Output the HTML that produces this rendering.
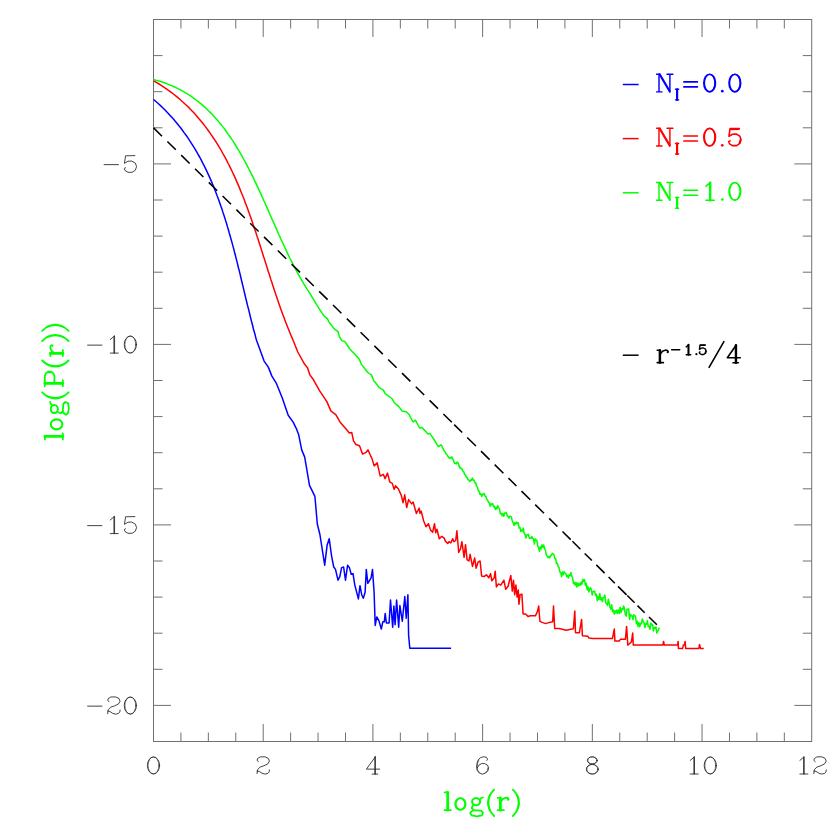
<!DOCTYPE html>
<html><head><meta charset="utf-8"><title>log P(r)</title>
<style>html,body{margin:0;padding:0;background:#fff}svg{display:block}text{font-family:"Liberation Serif",serif}</style>
</head><body>
<svg width="830" height="830" viewBox="0 0 830 830">
<rect width="830" height="830" fill="#fff"/>
<g stroke="#707070" stroke-width="1" fill="none" shape-rendering="auto">
<rect x="153.5" y="19.5" width="658.2" height="722.0"/>
<path d="M180.93 741.5 v-9.0 M180.93 19.5 v9.0 M208.35 741.5 v-9.0 M208.35 19.5 v9.0 M235.78 741.5 v-9.0 M235.78 19.5 v9.0 M263.21 741.5 v-17.5 M263.21 19.5 v17.5 M290.64 741.5 v-9.0 M290.64 19.5 v9.0 M318.06 741.5 v-9.0 M318.06 19.5 v9.0 M345.49 741.5 v-9.0 M345.49 19.5 v9.0 M372.92 741.5 v-17.5 M372.92 19.5 v17.5 M400.34 741.5 v-9.0 M400.34 19.5 v9.0 M427.77 741.5 v-9.0 M427.77 19.5 v9.0 M455.20 741.5 v-9.0 M455.20 19.5 v9.0 M482.62 741.5 v-17.5 M482.62 19.5 v17.5 M510.05 741.5 v-9.0 M510.05 19.5 v9.0 M537.48 741.5 v-9.0 M537.48 19.5 v9.0 M564.91 741.5 v-9.0 M564.91 19.5 v9.0 M592.33 741.5 v-17.5 M592.33 19.5 v17.5 M619.76 741.5 v-9.0 M619.76 19.5 v9.0 M647.19 741.5 v-9.0 M647.19 19.5 v9.0 M674.61 741.5 v-9.0 M674.61 19.5 v9.0 M702.04 741.5 v-17.5 M702.04 19.5 v17.5 M729.47 741.5 v-9.0 M729.47 19.5 v9.0 M756.90 741.5 v-9.0 M756.90 19.5 v9.0 M784.32 741.5 v-9.0 M784.32 19.5 v9.0 M153.5 705.40 h17.5 M811.8 705.40 h-17.5 M153.5 669.30 h9.0 M811.8 669.30 h-9.0 M153.5 633.20 h9.0 M811.8 633.20 h-9.0 M153.5 597.10 h9.0 M811.8 597.10 h-9.0 M153.5 561.00 h9.0 M811.8 561.00 h-9.0 M153.5 524.90 h17.5 M811.8 524.90 h-17.5 M153.5 488.80 h9.0 M811.8 488.80 h-9.0 M153.5 452.70 h9.0 M811.8 452.70 h-9.0 M153.5 416.60 h9.0 M811.8 416.60 h-9.0 M153.5 380.50 h9.0 M811.8 380.50 h-9.0 M153.5 344.40 h17.5 M811.8 344.40 h-17.5 M153.5 308.30 h9.0 M811.8 308.30 h-9.0 M153.5 272.20 h9.0 M811.8 272.20 h-9.0 M153.5 236.10 h9.0 M811.8 236.10 h-9.0 M153.5 200.00 h9.0 M811.8 200.00 h-9.0 M153.5 163.90 h17.5 M811.8 163.90 h-17.5 M153.5 127.80 h9.0 M811.8 127.80 h-9.0 M153.5 91.70 h9.0 M811.8 91.70 h-9.0 M153.5 55.60 h9.0 M811.8 55.60 h-9.0"/>
</g>
<g fill="none" stroke-linejoin="round" stroke-linecap="butt">
<path stroke="#00f" stroke-width="1.5" d="M153.6 99.5 L155.9 101.5 L158.2 103.5 L160.5 105.6 L162.7 107.7 L164.8 109.8 L166.9 112.0 L169.0 114.2 L171.0 116.4 L173.0 118.6 L175.0 120.9 L176.9 123.2 L178.7 125.5 L180.6 127.8 L182.4 130.2 L184.1 132.6 L185.9 135.0 L187.6 137.4 L189.2 139.8 L190.8 142.3 L192.4 144.8 L194.0 147.3 L195.5 149.8 L197.0 152.4 L198.4 155.0 L199.9 157.5 L201.3 160.2 L202.6 162.8 L204.0 165.4 L205.3 168.1 L206.6 170.7 L207.8 173.4 L209.1 176.1 L210.3 178.9 L211.5 181.6 L212.6 184.3 L213.8 187.1 L214.9 189.9 L216.0 192.7 L217.0 195.5 L218.1 198.3 L219.1 201.1 L220.1 203.9 L221.1 206.8 L222.1 209.6 L223.0 212.5 L224.0 215.4 L224.9 218.2 L225.8 221.1 L226.7 224.0 L227.5 226.9 L228.4 229.8 L229.2 232.7 L230.1 235.7 L230.9 238.6 L231.7 241.5 L232.5 244.4 L233.3 247.4 L234.1 250.3 L234.8 253.3 L235.6 256.2 L236.3 259.1 L237.1 262.1 L237.8 265.0 L238.5 268.0 L239.3 270.9 L240.0 273.9 L240.7 276.8 L241.4 279.8 L242.1 282.7 L242.8 285.7 L243.5 288.6 L244.2 291.5 L244.9 294.5 L245.6 297.4 L246.3 300.3 L247.0 303.2 L247.7 306.1 L248.5 309.0 L249.2 311.9 L249.9 314.8 L250.6 317.7 L251.3 320.6 L252.1 323.5 L252.8 326.3 L253.5 329.2 L254.3 332.0 L255.1 334.8 L255.8 337.7 L256.6 340.5 L256.6 340.5 L264.1 361.1 L268.3 367.1 L271.9 376.1 L276.1 382.8 L282.2 397.8 L288.2 415.3 L293.0 421.9 L296.6 429.2 L298.7 434.8 L301.7 449.9 L304.7 457.1 L309.5 485.4 L314.9 496.3 L317.3 524.0 L319.9 534.5 L324.7 565.2 L327.1 545.3 L329.2 538.7 L331.6 556.1 L333.7 567.0 L335.5 569.4 L338.0 580.2 L339.8 576.6 L341.6 567.6 L343.6 567.0 L345.5 580.2 L347.6 565.2 L349.4 567.6 L351.2 574.2 L353.0 573.6 L354.8 585.1 L358.4 598.9 L360.0 585.7 L361.7 594.7 L363.3 598.3 L365.1 592.3 L366.3 569.4 L367.8 583.3 L371.1 577.8 L372.5 569.4 L374.1 592.3 L375.2 625.4 L376.8 617.0 L378.9 620.6 L381.3 629.0 L382.8 621.8 L384.3 621.8 L385.2 613.4 L386.4 623.0 L389.1 623.0 L390.5 600.1 L392.7 627.2 L393.9 606.1 L395.1 624.8 L396.6 600.1 L398.7 627.2 L399.9 605.5 L402.3 621.2 L404.8 596.5 L406.2 618.2 L407.9 594.7 L408.6 635.1 L409.8 648.3 L451.1 648.3"/>
<path stroke="#f00" stroke-width="1.5" d="M153.6 80.8 L156.3 82.4 L159.0 84.0 L161.6 85.6 L164.2 87.3 L166.7 89.1 L169.2 90.9 L171.6 92.7 L174.0 94.5 L176.4 96.4 L178.7 98.3 L180.9 100.3 L183.1 102.2 L185.3 104.3 L187.5 106.3 L189.6 108.4 L191.6 110.5 L193.6 112.6 L195.6 114.8 L197.5 117.0 L199.4 119.2 L201.3 121.5 L203.2 123.8 L205.0 126.1 L206.7 128.4 L208.4 130.8 L210.1 133.1 L211.8 135.6 L213.4 138.0 L215.1 140.4 L216.6 142.9 L218.2 145.4 L219.7 147.9 L221.2 150.5 L222.6 153.0 L224.1 155.6 L225.5 158.2 L226.9 160.8 L228.2 163.5 L229.6 166.1 L230.9 168.8 L232.2 171.5 L233.4 174.2 L234.7 176.9 L235.9 179.6 L237.1 182.4 L238.3 185.1 L239.5 187.9 L240.6 190.7 L241.7 193.5 L242.9 196.3 L244.0 199.1 L245.0 201.9 L246.1 204.8 L247.2 207.6 L248.2 210.4 L249.2 213.3 L250.3 216.2 L251.3 219.0 L252.3 221.9 L253.2 224.8 L254.2 227.7 L255.2 230.6 L256.2 233.5 L257.1 236.4 L258.1 239.3 L259.0 242.2 L259.9 245.1 L260.9 248.0 L261.8 250.9 L262.7 253.8 L263.6 256.7 L264.6 259.6 L265.5 262.5 L266.4 265.4 L267.3 268.3 L268.2 271.2 L269.2 274.1 L270.1 277.0 L271.0 279.9 L272.0 282.8 L272.9 285.7 L273.8 288.5 L274.8 291.4 L275.7 294.3 L276.7 297.1 L277.7 299.9 L278.6 302.8 L279.6 305.6 L280.6 308.4 L281.6 311.2 L282.6 314.0 L283.7 316.8 L284.7 319.6 L285.7 322.3 L286.8 325.1 L287.9 327.8 L289.0 330.5 L290.1 333.2 L291.2 335.9 L292.4 338.6 L293.2 340.5 L297.8 352.0 L304.5 364.1 L307.5 367.7 L309.9 374.9 L313.5 379.8 L319.5 390.6 L326.7 401.4 L331.0 411.1 L335.8 414.7 L340.0 421.9 L346.9 430.0 L349.3 433.0 L351.7 432.4 L353.5 440.8 L355.9 444.5 L359.5 445.7 L362.5 454.1 L366.1 452.3 L368.0 449.9 L370.4 455.3 L371.8 458.1 L374.2 465.9 L377.2 462.9 L380.2 476.1 L383.3 474.3 L385.1 478.6 L387.5 473.1 L389.9 482.2 L392.3 483.4 L394.1 489.4 L395.5 485.8 L398.3 488.8 L401.3 495.4 L403.1 502.7 L404.7 494.8 L406.7 507.5 L408.6 499.6 L411.6 503.9 L413.1 502.0 L416.4 513.5 L419.2 508.1 L420.0 513.5 L421.2 511.1 L423.6 520.7 L426.0 526.7 L428.4 523.7 L430.8 530.4 L432.7 532.2 L434.5 523.7 L435.7 532.8 L436.9 529.2 L439.3 538.8 L441.8 536.3 L444.2 538.1 L445.4 541.1 L447.8 543.5 L449.0 541.7 L450.8 542.9 L452.7 538.7 L453.9 541.7 L455.7 540.5 L456.9 530.8 L458.7 552.5 L460.5 548.9 L461.9 541.7 L464.1 557.3 L465.5 544.7 L467.1 559.8 L468.9 561.0 L470.1 554.3 L472.5 566.4 L474.7 558.0 L476.1 568.2 L478.0 562.2 L480.1 561.0 L481.6 576.0 L484.0 576.6 L486.4 574.8 L488.8 577.8 L490.6 573.6 L491.8 580.8 L494.2 577.8 L495.2 571.2 L496.4 586.9 L498.4 583.9 L500.8 585.1 L503.9 580.2 L505.7 589.3 L508.1 586.3 L510.8 575.4 L512.3 591.1 L513.5 580.2 L514.7 594.7 L515.9 585.1 L517.1 597.1 L518.3 589.9 L518.9 604.3 L520.1 594.7 L521.9 594.1 L523.1 614.0 L525.5 614.0 L528.0 616.4 L530.4 615.8 L535.4 615.8 L537.2 612.2 L538.7 606.1 L539.9 621.2 L542.0 622.4 L545.7 623.6 L549.3 622.4 L552.7 621.8 L553.5 606.1 L554.7 628.4 L558.9 628.4 L561.3 629.0 L566.1 630.2 L573.4 628.8 L574.8 611.0 L575.5 632.7 L579.4 632.7 L581.6 619.4 L582.4 635.7 L587.8 636.3 L589.0 638.1 L592.7 638.4 L612.5 638.4 L614.3 629.0 L614.9 641.1 L619.2 641.1 L620.4 639.3 L625.4 639.3 L626.6 626.4 L627.8 645.1 L631.4 642.0 L632.7 633.0 L633.3 645.1 L662.8 645.1 L663.6 641.4 L664.3 645.1 L677.6 645.1 L678.1 641.4 L678.4 648.4 L682.7 648.4 L683.3 645.1 L684.5 645.1 L685.1 641.4 L685.7 648.4 L698.9 648.4 L699.5 644.5 L700.5 648.4 L703.7 648.4"/>
<path stroke="#0f0" stroke-width="1.5" d="M153.6 79.6 L156.7 80.4 L159.8 81.3 L162.8 82.3 L165.7 83.3 L168.6 84.4 L171.4 85.6 L174.2 86.8 L176.9 88.1 L179.6 89.4 L182.2 90.9 L184.8 92.3 L187.3 93.9 L189.8 95.4 L192.2 97.1 L194.5 98.8 L196.9 100.5 L199.1 102.3 L201.4 104.2 L203.6 106.1 L205.7 108.0 L207.8 110.0 L209.9 112.1 L211.9 114.1 L213.9 116.3 L215.8 118.4 L217.8 120.6 L219.6 122.9 L221.5 125.1 L223.3 127.4 L225.1 129.8 L226.8 132.2 L228.5 134.6 L230.2 137.0 L231.8 139.4 L233.5 141.9 L235.1 144.5 L236.6 147.0 L238.2 149.5 L239.7 152.1 L241.2 154.7 L242.7 157.3 L244.1 160.0 L245.6 162.6 L247.0 165.3 L248.4 168.0 L249.8 170.7 L251.1 173.4 L252.5 176.1 L253.8 178.8 L255.1 181.6 L256.4 184.3 L257.7 187.1 L259.0 189.9 L260.3 192.6 L261.5 195.4 L262.8 198.2 L264.0 201.0 L265.3 203.8 L266.5 206.6 L267.8 209.4 L269.0 212.2 L270.2 215.0 L271.4 217.7 L272.7 220.5 L273.9 223.3 L275.1 226.1 L276.4 228.9 L277.6 231.7 L278.8 234.5 L280.1 237.2 L281.3 240.0 L282.6 242.7 L283.9 245.5 L285.1 248.2 L286.4 250.9 L287.7 253.6 L289.0 256.3 L290.3 259.0 L291.7 261.7 L293.0 264.4 L294.4 267.0 L295.8 269.6 L297.2 272.2 L298.6 274.8 L300.1 277.4 L301.5 279.9 L303.0 282.4 L304.5 285.0 L306.0 287.4 L307.6 289.9 L309.2 292.3 L310.0 293.6 L317.2 305.7 L323.9 315.9 L327.5 318.9 L329.3 322.5 L334.1 328.6 L338.0 331.6 L339.5 337.0 L341.9 340.6 L345.2 341.8 L349.8 349.0 L354.6 353.9 L359.4 359.3 L361.2 364.1 L367.8 372.5 L371.4 374.9 L373.9 381.0 L375.5 382.6 L379.2 387.7 L383.4 390.1 L385.2 393.7 L391.9 398.5 L394.3 402.7 L399.1 406.9 L402.1 411.1 L406.3 411.7 L409.3 414.8 L413.0 422.0 L415.4 420.2 L419.6 428.0 L422.0 427.4 L428.0 434.0 L429.8 433.4 L434.0 439.5 L438.3 446.7 L440.9 444.8 L441.7 445.5 L442.6 448.0 L443.4 448.9 L444.3 451.3 L445.1 452.0 L446.0 453.8 L446.8 454.3 L447.7 456.2 L448.5 456.8 L449.4 458.3 L450.2 457.6 L451.1 458.2 L451.9 456.8 L452.8 459.2 L453.6 460.5 L454.5 463.4 L455.3 463.1 L456.2 463.9 L457.0 462.0 L457.9 462.7 L458.7 464.3 L459.6 467.7 L460.4 467.3 L461.3 468.9 L462.1 469.1 L463.0 471.4 L463.8 471.8 L464.7 474.8 L465.5 475.0 L466.4 477.6 L467.2 477.4 L468.1 479.8 L468.9 479.9 L469.8 481.6 L470.6 480.0 L471.5 480.2 L472.3 477.9 L473.2 480.2 L474.0 480.1 L474.9 482.7 L475.7 482.7 L476.6 486.4 L477.4 487.0 L478.3 490.8 L479.1 491.1 L480.0 494.2 L480.8 493.9 L481.7 496.4 L482.5 493.9 L483.4 494.6 L484.2 493.5 L485.1 496.3 L485.9 496.3 L486.8 499.4 L487.6 499.9 L488.5 502.5 L489.3 502.7 L490.2 506.3 L491.0 503.7 L491.9 504.7 L492.7 503.6 L493.6 506.8 L494.4 506.4 L495.3 509.4 L496.1 507.3 L497.0 508.9 L497.8 505.8 L498.7 507.6 L499.5 508.9 L500.4 513.8 L501.2 513.2 L502.1 515.7 L502.9 513.5 L503.8 516.3 L504.6 513.1 L505.5 513.3 L506.3 512.4 L507.2 515.8 L508.0 516.4 L508.9 518.2 L509.7 516.3 L510.6 516.3 L511.4 517.0 L512.3 521.1 L513.1 522.3 L514.0 525.5 L514.8 522.7 L515.7 524.0 L516.5 522.1 L517.4 523.5 L518.2 522.9 L519.1 528.0 L519.9 527.2 L520.8 531.5 L521.6 530.0 L522.5 531.1 L523.3 528.1 L524.2 533.7 L525.0 534.3 L525.9 538.0 L526.7 535.1 L527.6 534.9 L528.4 534.3 L529.3 538.2 L530.1 538.0 L531.0 538.4 L531.8 536.5 L532.7 538.3 L533.5 538.7 L534.4 544.0 L535.2 539.1 L536.1 539.9 L536.9 540.4 L537.8 546.4 L538.6 547.7 L539.5 551.3 L540.3 546.7 L541.2 548.8 L542.0 544.7 L542.9 547.2 L543.7 544.9 L544.6 548.8 L545.4 549.9 L546.3 554.9 L547.1 556.2 L548.0 557.7 L548.8 556.5 L549.7 557.9 L550.5 555.4 L551.4 555.4 L552.2 553.3 L553.1 553.8 L553.9 554.6 L554.8 558.4 L555.6 558.4 L556.5 563.6 L557.3 563.3 L558.2 566.7 L559.0 567.3 L559.9 572.0 L560.7 572.6 L561.6 576.5 L562.4 571.9 L563.3 574.8 L564.1 571.6 L565.0 573.1 L565.8 573.4 L566.7 576.5 L567.5 575.6 L568.4 578.0 L569.2 574.8 L570.1 575.6 L570.9 572.4 L571.8 576.3 L572.6 577.8 L573.5 583.5 L574.3 582.4 L575.2 585.3 L576.0 582.4 L576.9 587.1 L577.7 583.1 L578.6 585.8 L579.4 583.5 L580.3 585.3 L581.1 581.9 L582.0 584.2 L582.8 579.5 L583.7 581.5 L584.5 579.6 L585.4 585.2 L586.2 583.3 L587.1 589.7 L587.9 586.6 L588.8 592.0 L589.6 589.1 L590.5 587.8 L591.3 589.3 L592.2 595.0 L593.0 591.6 L593.9 591.2 L594.7 591.3 L595.6 595.4 L596.4 594.4 L597.3 600.7 L598.1 596.8 L599.0 599.5 L599.8 593.5 L600.7 599.8 L601.5 597.9 L602.4 601.5 L603.2 597.5 L604.1 597.2 L604.9 595.1 L605.8 603.1 L606.6 603.5 L607.5 605.4 L608.3 599.2 L609.2 603.1 L610.0 607.3 L610.9 609.3 L611.7 604.8 L612.6 611.7 L613.4 610.1 L614.3 614.2 L615.1 610.7 L616.0 613.1 L616.8 610.1 L617.7 613.4 L618.5 610.1 L619.4 613.4 L620.2 607.2 L621.1 612.4 L621.9 608.7 L622.8 609.8 L623.6 605.9 L624.5 608.8 L625.3 614.4 L626.2 616.2 L627.0 609.2 L627.9 609.5 L628.7 609.0 L629.6 619.4 L630.4 614.2 L631.3 615.8 L632.1 615.7 L633.0 619.5 L633.8 614.8 L634.7 615.8 L635.5 616.1 L636.4 623.8 L637.2 621.3 L638.1 626.5 L638.9 622.6 L639.8 626.7 L640.6 623.3 L641.5 623.8 L642.3 618.9 L643.2 621.5 L644.0 622.4 L644.9 627.7 L645.7 623.7 L646.6 624.1 L647.4 620.7 L648.3 626.6 L649.1 626.3 L650.0 629.3 L650.8 623.1 L651.7 624.9 L652.5 624.2 L653.4 630.9 L654.2 627.5 L655.1 628.1 L655.9 626.8 L656.8 633.1 L657.6 631.3 L658.5 630.3 L659.2 627.6"/>
<path stroke="#000" stroke-width="1.55" d="M153.6 127.90 L162.0 136.19 M167.4 141.52 L175.8 149.81 M181.2 155.14 L189.6 163.44 M195.0 168.77 L203.4 177.06 M208.8 182.39 L217.2 190.68 M222.6 196.01 L231.0 204.31 M236.4 209.64 L244.8 217.93 M250.2 223.26 L258.6 231.55 M264.0 236.88 L272.4 245.17 M277.8 250.50 L286.2 258.80 M291.6 264.13 L300.0 272.42 M305.4 277.75 L313.8 286.04 M319.2 291.37 L327.6 299.67 M333.0 305.00 L341.4 313.29 M346.8 318.62 L355.2 326.91 M360.6 332.24 L369.0 340.53 M374.4 345.86 L382.8 354.16 M388.2 359.49 L396.6 367.78 M402.0 373.11 L410.4 381.40 M415.8 386.73 L424.2 395.03 M429.6 400.36 L438.0 408.65 M443.4 413.98 L451.8 422.27 M454.2 424.64 L462.2 432.54 M467.2 437.47 L475.9 446.06 M481.0 451.10 L489.6 459.59 M494.7 464.62 L503.4 473.21 M508.4 478.14 L516.4 486.04 M521.5 491.08 L530.3 499.76 M535.2 504.60 L544.0 513.29 M549.2 518.42 L557.4 526.52 M562.5 531.55 L570.7 539.64 M572.4 541.32 L580.4 549.22 M584.7 553.46 L591.9 560.57 M596.3 564.92 L604.6 573.11 M608.6 577.06 L614.8 583.18 M618.0 586.34 L626.6 594.83 M627.3 595.52 L634.6 602.72 M637.5 605.59 L644.7 612.69 M649.0 616.94 L656.9 624.74"/>
</g>
<g fill="none" stroke="#2a2a2a" stroke-width="0.9" stroke-linejoin="round" stroke-linecap="round">
<g transform="translate(153.50 765.45) scale(1 0.97)"><ellipse cx="0" cy="0" rx="6.1" ry="8.8"/><ellipse cx="0" cy="0" rx="5.4" ry="8.7" stroke-width="0.6"/></g>
<g transform="translate(263.21 765.45) scale(1 0.97)"><path d="M-4.8 -4 L-6.1 -5.1 L-5.7 -7.1 L-3.1 -8.8 L1.7 -8.9 L5.1 -7.3 L6.2 -4.5 L4.6 -1.6 L0.8 0.3 L-3.1 1.7 L-5.5 4.1 L-6.2 8.4 M-6.2 5.7 L-4 6.1 L-1.2 8 L1.7 8.9 L4.6 8.2 L6 6.6 L6.2 4.6"/></g>
<g transform="translate(372.92 765.45) scale(1 0.97)"><path d="M2.4 -8.9 L-6.5 3.8 H6.7 M1.9 -8.9 V8.9 M2.5 -8.9 V8.9 M-0.7 8.9 H4.8"/></g>
<g transform="translate(482.62 765.45) scale(1 0.97)"><path d="M4.2 -5.2 L5 -6.5 L3.8 -8.4 L1 -9 L-2 -8.1 L-4.3 -6 L-5.5 -2.6 L-6 1.2 L-5.5 5 L-3.8 7.4 L-0.4 9 L3 7.9 L5.3 5.5 L6 2.2 L4.8 -0.4 L2 -1.9 L-1 -1.9 L-3.6 -0.4 L-5.2 2.2"/><path stroke-width="0.6" d="M-3.7 -5.8 L-4.9 -2.6 L-5.4 1.2 L-4.9 5 L-3.4 7.2 M5.3 2.2 L4.7 5.2 L2.8 7.3"/></g>
<g transform="translate(592.33 765.45) scale(1 0.97)"><ellipse cx="0" cy="-5.2" rx="5" ry="3.7"/><ellipse cx="0" cy="3.9" rx="6" ry="5"/><ellipse cx="0" cy="-5.2" rx="4.4" ry="3.6" stroke-width="0.6"/><ellipse cx="0" cy="3.9" rx="5.4" ry="4.9" stroke-width="0.6"/></g>
<g transform="translate(693.79 765.45) scale(1 0.97)"><path d="M-3.6 -5.2 L0.4 -8.7 M0.1 -8.7 V8.8 M0.7 -8.7 V8.8 M-3.6 8.8 H4.4"/></g><g transform="translate(710.29 765.45) scale(1 0.97)"><ellipse cx="0" cy="0" rx="6.1" ry="8.8"/><ellipse cx="0" cy="0" rx="5.4" ry="8.7" stroke-width="0.6"/></g>
<g transform="translate(803.50 765.45) scale(1 0.97)"><path d="M-3.6 -5.2 L0.4 -8.7 M0.1 -8.7 V8.8 M0.7 -8.7 V8.8 M-3.6 8.8 H4.4"/></g><g transform="translate(820.00 765.45) scale(1 0.97)"><path d="M-4.8 -4 L-6.1 -5.1 L-5.7 -7.1 L-3.1 -8.8 L1.7 -8.9 L5.1 -7.3 L6.2 -4.5 L4.6 -1.6 L0.8 0.3 L-3.1 1.7 L-5.5 4.1 L-6.2 8.4 M-6.2 5.7 L-4 6.1 L-1.2 8 L1.7 8.9 L4.6 8.2 L6 6.6 L6.2 4.6"/></g>
<g transform="translate(111.40 164.05) scale(1 0.97)"><path d="M-7.3 0.6 H7.0"/></g><g transform="translate(130.35 164.05) scale(1 0.97)"><path d="M4.5 -8.7 L-4.8 -8.5 L-5.9 -0.7 L-2.4 -2.9 L1.3 -3.1 L5 -1 L6.2 2.6 L5 6.3 L1.8 8.5 L-2.4 8.5 L-5.3 6.7 L-6.1 4.6 L-4.8 3.8"/></g>
<g transform="translate(94.90 344.55) scale(1 0.97)"><path d="M-7.3 0.6 H7.0"/></g><g transform="translate(113.85 344.55) scale(1 0.97)"><path d="M-3.6 -5.2 L0.4 -8.7 M0.1 -8.7 V8.8 M0.7 -8.7 V8.8 M-3.6 8.8 H4.4"/></g><g transform="translate(130.35 344.55) scale(1 0.97)"><ellipse cx="0" cy="0" rx="6.1" ry="8.8"/><ellipse cx="0" cy="0" rx="5.4" ry="8.7" stroke-width="0.6"/></g>
<g transform="translate(94.90 525.05) scale(1 0.97)"><path d="M-7.3 0.6 H7.0"/></g><g transform="translate(113.85 525.05) scale(1 0.97)"><path d="M-3.6 -5.2 L0.4 -8.7 M0.1 -8.7 V8.8 M0.7 -8.7 V8.8 M-3.6 8.8 H4.4"/></g><g transform="translate(130.35 525.05) scale(1 0.97)"><path d="M4.5 -8.7 L-4.8 -8.5 L-5.9 -0.7 L-2.4 -2.9 L1.3 -3.1 L5 -1 L6.2 2.6 L5 6.3 L1.8 8.5 L-2.4 8.5 L-5.3 6.7 L-6.1 4.6 L-4.8 3.8"/></g>
<g transform="translate(94.90 705.55) scale(1 0.97)"><path d="M-7.3 0.6 H7.0"/></g><g transform="translate(113.85 705.55) scale(1 0.97)"><path d="M-4.8 -4 L-6.1 -5.1 L-5.7 -7.1 L-3.1 -8.8 L1.7 -8.9 L5.1 -7.3 L6.2 -4.5 L4.6 -1.6 L0.8 0.3 L-3.1 1.7 L-5.5 4.1 L-6.2 8.4 M-6.2 5.7 L-4 6.1 L-1.2 8 L1.7 8.9 L4.6 8.2 L6 6.6 L6.2 4.6"/></g><g transform="translate(130.35 705.55) scale(1 0.97)"><ellipse cx="0" cy="0" rx="6.1" ry="8.8"/><ellipse cx="0" cy="0" rx="5.4" ry="8.7" stroke-width="0.6"/></g>
</g>
<g transform="translate(444.60 810.20)" stroke="#0f0" fill="none" stroke-linecap="round" stroke-linejoin="round"><path d="M3.1 -17.9 V0" stroke-width="2.79"/><path d="M0 -17.9 H3.1 M0 0 H6.2" stroke-width="1.80"/></g>
<g transform="translate(460.40 810.20)" stroke="#0f0" fill="none" stroke-linecap="round" stroke-linejoin="round"><ellipse cx="0" cy="-6.2" rx="5.2" ry="5.85" stroke-width="1.80"/><ellipse cx="0" cy="-6.2" rx="4.6" ry="5.7" stroke-width="1.44"/></g>
<g transform="translate(476.10 810.20)" stroke="#0f0" fill="none" stroke-linecap="round" stroke-linejoin="round"><ellipse cx="0" cy="-8.5" rx="4.1" ry="3.6" stroke-width="1.80"/><ellipse cx="0" cy="-8.5" rx="3.6" ry="3.5" stroke-width="1.26"/><path d="M4 -11 L5.2 -12.2 L6.9 -12.7" stroke-width="1.80"/><path d="M-3.3 -4.6 L-4.4 -2.1 L-2.3 0 L4.9 0.5 L6.9 2.5 L5.9 5.1 L0.8 6.1 L-4.4 5.1 L-5.9 3.1 L-4.4 1 L-2.3 0" stroke-width="1.80"/></g>
<g transform="translate(487.90 810.20)" stroke="#0f0" fill="none" stroke-linecap="round" stroke-linejoin="round"><path d="M6.2 -20.6 C2.5 -17 0 -12 0 -7.5 C0 -3 2.5 2 6.2 5.8" stroke-width="1.80"/><path d="M2.6 -16 C1.2 -13 0.7 -10 0.7 -7.5 C0.7 -5 1.2 -2 2.6 1" stroke-width="1.44"/></g>
<g transform="translate(500.40 810.20)" stroke="#0f0" fill="none" stroke-linecap="round" stroke-linejoin="round"><path d="M0 -12.4 V0" stroke-width="2.79"/><path d="M-2.7 -12.4 H0 M-2.7 0 H3.5" stroke-width="1.80"/><path d="M0 -8.2 L2.6 -11.3 L5.6 -12.5 L7.6 -12.2 L8.2 -10.8" stroke-width="1.80"/><circle cx="7.7" cy="-10.4" r="1.0" fill="#0f0" stroke="none"/></g>
<g transform="translate(519.10 810.20)" stroke="#0f0" fill="none" stroke-linecap="round" stroke-linejoin="round"><path d="M-6.2 -20.6 C-2.5 -17 0 -12 0 -7.5 C0 -3 -2.5 2 -6.2 5.8" stroke-width="1.80"/><path d="M-2.6 -16 C-1.2 -13 -0.7 -10 -0.7 -7.5 C-0.7 -5 -1.2 -2 -2.6 1" stroke-width="1.44"/></g>
<g transform="translate(62.8 439.5) rotate(-90)">
<g transform="translate(0.00 0.00)" stroke="#0f0" fill="none" stroke-linecap="round" stroke-linejoin="round"><path d="M3.1 -17.9 V0" stroke-width="2.79"/><path d="M0 -17.9 H3.1 M0 0 H6.2" stroke-width="1.80"/></g>
<g transform="translate(15.20 0.00)" stroke="#0f0" fill="none" stroke-linecap="round" stroke-linejoin="round"><ellipse cx="0" cy="-6.2" rx="5.2" ry="5.85" stroke-width="1.80"/><ellipse cx="0" cy="-6.2" rx="4.6" ry="5.7" stroke-width="1.44"/></g>
<g transform="translate(30.60 0.00)" stroke="#0f0" fill="none" stroke-linecap="round" stroke-linejoin="round"><ellipse cx="0" cy="-8.5" rx="4.1" ry="3.6" stroke-width="1.80"/><ellipse cx="0" cy="-8.5" rx="3.6" ry="3.5" stroke-width="1.26"/><path d="M4 -11 L5.2 -12.2 L6.9 -12.7" stroke-width="1.80"/><path d="M-3.3 -4.6 L-4.4 -2.1 L-2.3 0 L4.9 0.5 L6.9 2.5 L5.9 5.1 L0.8 6.1 L-4.4 5.1 L-5.9 3.1 L-4.4 1 L-2.3 0" stroke-width="1.80"/></g>
<g transform="translate(41.00 0.00)" stroke="#0f0" fill="none" stroke-linecap="round" stroke-linejoin="round"><path d="M6.2 -20.6 C2.5 -17 0 -12 0 -7.5 C0 -3 2.5 2 6.2 5.8" stroke-width="1.80"/><path d="M2.6 -16 C1.2 -13 0.7 -10 0.7 -7.5 C0.7 -5 1.2 -2 2.6 1" stroke-width="1.44"/></g>
<g transform="translate(53.20 0.00)" stroke="#0f0" fill="none" stroke-linecap="round" stroke-linejoin="round"><path d="M2.9 -18 V0" stroke-width="2.79"/><path d="M0 -18 H3 M0 0 H6.1" stroke-width="1.80"/><path d="M3 -18 H10.5 L13.4 -16.6 L14.7 -14.4 L14.7 -12 L13.4 -9.8 L10.5 -8.4 H3" stroke-width="1.80"/><path d="M13.9 -14.4 V-12" stroke-width="1.80"/></g>
<g transform="translate(72.80 0.00)" stroke="#0f0" fill="none" stroke-linecap="round" stroke-linejoin="round"><path d="M6.2 -20.6 C2.5 -17 0 -12 0 -7.5 C0 -3 2.5 2 6.2 5.8" stroke-width="1.80"/><path d="M2.6 -16 C1.2 -13 0.7 -10 0.7 -7.5 C0.7 -5 1.2 -2 2.6 1" stroke-width="1.44"/></g>
<g transform="translate(86.10 0.00)" stroke="#0f0" fill="none" stroke-linecap="round" stroke-linejoin="round"><path d="M0 -12.4 V0" stroke-width="2.79"/><path d="M-2.7 -12.4 H0 M-2.7 0 H3.5" stroke-width="1.80"/><path d="M0 -8.2 L2.6 -11.3 L5.6 -12.5 L7.6 -12.2 L8.2 -10.8" stroke-width="1.80"/><circle cx="7.7" cy="-10.4" r="1.0" fill="#0f0" stroke="none"/></g>
<g transform="translate(104.70 0.00)" stroke="#0f0" fill="none" stroke-linecap="round" stroke-linejoin="round"><path d="M-6.2 -20.6 C-2.5 -17 0 -12 0 -7.5 C0 -3 -2.5 2 -6.2 5.8" stroke-width="1.80"/><path d="M-2.6 -16 C-1.2 -13 -0.7 -10 -0.7 -7.5 C-0.7 -5 -1.2 -2 -2.6 1" stroke-width="1.44"/></g>
<g transform="translate(114.90 0.00)" stroke="#0f0" fill="none" stroke-linecap="round" stroke-linejoin="round"><path d="M-6.2 -20.6 C-2.5 -17 0 -12 0 -7.5 C0 -3 -2.5 2 -6.2 5.8" stroke-width="1.80"/><path d="M-2.6 -16 C-1.2 -13 -0.7 -10 -0.7 -7.5 C-0.7 -5 -1.2 -2 -2.6 1" stroke-width="1.44"/></g>
</g>
<path d="M622.8 84.5 H638.6" stroke="#00f" stroke-width="1.5"/>
<g transform="translate(656.60 91.88)" stroke="#00f" fill="none" stroke-linecap="round" stroke-linejoin="round"><path d="M0 -17.7 H3.4 M10.4 -17.7 H16.3 M0 0 H5.4 M2.4 -17.7 V0 M13.3 -17.7 V0" stroke-width="1.44"/><path d="M2.6 -17.7 L13.1 0 M3.3 -17.7 L13.3 -0.8" stroke-width="1.60"/></g>
<g transform="translate(677.10 99.88) scale(0.6)" stroke="#00f" fill="none" stroke-linecap="round" stroke-linejoin="round"><path d="M0 -17.7 V0" stroke-width="3.62"/><path d="M-2.6 -17.7 H2.6 M-2.6 0 H2.6" stroke-width="2.42"/></g>
<g transform="translate(683.10 91.88)" stroke="#00f" fill="none" stroke-linecap="round" stroke-linejoin="round"><path d="M0.7 -10 H14.4 M0.7 -5 H14.4" stroke-width="1.52"/></g>
<g transform="translate(709.65 91.88)" stroke="#00f" fill="none" stroke-linecap="round" stroke-linejoin="round"><ellipse cx="0" cy="-8.85" rx="5.85" ry="8.85" stroke-width="1.60"/><ellipse cx="0" cy="-8.85" rx="5.2" ry="8.7" stroke-width="1.28"/></g>
<g transform="translate(722.30 91.88)" stroke="#00f" fill="none" stroke-linecap="round" stroke-linejoin="round"><circle cx="0" cy="-0.7" r="1.35" fill="#00f" stroke="none"/></g>
<g transform="translate(734.85 91.88)" stroke="#00f" fill="none" stroke-linecap="round" stroke-linejoin="round"><ellipse cx="0" cy="-8.85" rx="5.85" ry="8.85" stroke-width="1.60"/><ellipse cx="0" cy="-8.85" rx="5.2" ry="8.7" stroke-width="1.28"/></g>
<path d="M622.8 138.6 H638.6" stroke="#f00" stroke-width="1.5"/>
<g transform="translate(656.60 146.03)" stroke="#f00" fill="none" stroke-linecap="round" stroke-linejoin="round"><path d="M0 -17.7 H3.4 M10.4 -17.7 H16.3 M0 0 H5.4 M2.4 -17.7 V0 M13.3 -17.7 V0" stroke-width="1.44"/><path d="M2.6 -17.7 L13.1 0 M3.3 -17.7 L13.3 -0.8" stroke-width="1.60"/></g>
<g transform="translate(677.10 154.03) scale(0.6)" stroke="#f00" fill="none" stroke-linecap="round" stroke-linejoin="round"><path d="M0 -17.7 V0" stroke-width="3.62"/><path d="M-2.6 -17.7 H2.6 M-2.6 0 H2.6" stroke-width="2.42"/></g>
<g transform="translate(683.10 146.03)" stroke="#f00" fill="none" stroke-linecap="round" stroke-linejoin="round"><path d="M0.7 -10 H14.4 M0.7 -5 H14.4" stroke-width="1.52"/></g>
<g transform="translate(709.65 146.03)" stroke="#f00" fill="none" stroke-linecap="round" stroke-linejoin="round"><ellipse cx="0" cy="-8.85" rx="5.85" ry="8.85" stroke-width="1.60"/><ellipse cx="0" cy="-8.85" rx="5.2" ry="8.7" stroke-width="1.28"/></g>
<g transform="translate(722.30 146.03)" stroke="#f00" fill="none" stroke-linecap="round" stroke-linejoin="round"><circle cx="0" cy="-0.7" r="1.35" fill="#f00" stroke="none"/></g>
<g transform="translate(734.85 146.03)" stroke="#f00" fill="none" stroke-linecap="round" stroke-linejoin="round"><path d="M4.5 -17.6 L-4.8 -17.4 L-5.9 -9.6 L-2.4 -11.8 L1.3 -12 L5 -9.9 L6.2 -6.3 L5 -2.6 L1.8 -0.4 L-2.4 -0.4 L-5.3 -2.2 L-6.1 -4.3 L-4.8 -5.1" stroke-width="1.60"/><path d="M4.3 -16.9 L-4 -16.7 M5.5 -6.3 L4.5 -3" stroke-width="1.60"/></g>
<path d="M622.8 192.8 H638.6" stroke="#0f0" stroke-width="1.5"/>
<g transform="translate(656.60 200.18)" stroke="#0f0" fill="none" stroke-linecap="round" stroke-linejoin="round"><path d="M0 -17.7 H3.4 M10.4 -17.7 H16.3 M0 0 H5.4 M2.4 -17.7 V0 M13.3 -17.7 V0" stroke-width="1.44"/><path d="M2.6 -17.7 L13.1 0 M3.3 -17.7 L13.3 -0.8" stroke-width="1.60"/></g>
<g transform="translate(677.10 208.18) scale(0.6)" stroke="#0f0" fill="none" stroke-linecap="round" stroke-linejoin="round"><path d="M0 -17.7 V0" stroke-width="3.62"/><path d="M-2.6 -17.7 H2.6 M-2.6 0 H2.6" stroke-width="2.42"/></g>
<g transform="translate(683.10 200.18)" stroke="#0f0" fill="none" stroke-linecap="round" stroke-linejoin="round"><path d="M0.7 -10 H14.4 M0.7 -5 H14.4" stroke-width="1.52"/></g>
<g transform="translate(709.65 200.18)" stroke="#0f0" fill="none" stroke-linecap="round" stroke-linejoin="round"><path d="M-3.6 -14 L0.5 -17.5 M-3.6 0 H4.6" stroke-width="1.60"/><path d="M0.5 -17.6 V0" stroke-width="2.40"/></g>
<g transform="translate(722.30 200.18)" stroke="#0f0" fill="none" stroke-linecap="round" stroke-linejoin="round"><circle cx="0" cy="-0.7" r="1.35" fill="#0f0" stroke="none"/></g>
<g transform="translate(734.85 200.18)" stroke="#0f0" fill="none" stroke-linecap="round" stroke-linejoin="round"><ellipse cx="0" cy="-8.85" rx="5.85" ry="8.85" stroke-width="1.60"/><ellipse cx="0" cy="-8.85" rx="5.2" ry="8.7" stroke-width="1.28"/></g>
<path d="M622.8 355.2 H638.6" stroke="#000" stroke-width="1.5"/>
<g transform="translate(659.90 362.63)" stroke="#000" fill="none" stroke-linecap="round" stroke-linejoin="round"><path d="M0 -12.4 V0" stroke-width="2.48"/><path d="M-2.7 -12.4 H0 M-2.7 0 H3.5" stroke-width="1.60"/><path d="M0 -8.2 L2.6 -11.3 L5.6 -12.5 L7.6 -12.2 L8.2 -10.8" stroke-width="1.60"/><circle cx="7.7" cy="-10.4" r="1.0" fill="#000" stroke="none"/></g>
<g transform="translate(671.10 349.73)" stroke="#000" fill="none" stroke-linecap="round" stroke-linejoin="round"><path d="M0.5 0 H8.7" stroke-width="1.38"/></g>
<g transform="translate(688.20 354.73) scale(0.56)" stroke="#000" fill="none" stroke-linecap="round" stroke-linejoin="round"><path d="M-3.6 -14 L0.5 -17.5 M-3.6 0 H4.6" stroke-width="2.50"/><path d="M0.5 -17.6 V0" stroke-width="3.75"/></g>
<g transform="translate(696.40 354.73) scale(0.8)" stroke="#000" fill="none" stroke-linecap="round" stroke-linejoin="round"><circle cx="0" cy="-0.7" r="1.35" fill="#000" stroke="none"/></g>
<g transform="translate(702.70 354.73) scale(0.56)" stroke="#000" fill="none" stroke-linecap="round" stroke-linejoin="round"><path d="M4.5 -17.6 L-4.8 -17.4 L-5.9 -9.6 L-2.4 -11.8 L1.3 -12 L5 -9.9 L6.2 -6.3 L5 -2.6 L1.8 -0.4 L-2.4 -0.4 L-5.3 -2.2 L-6.1 -4.3 L-4.8 -5.1" stroke-width="2.50"/><path d="M4.3 -16.9 L-4 -16.7 M5.5 -6.3 L4.5 -3" stroke-width="2.50"/></g>
<g transform="translate(716.50 361.63)" stroke="#000" fill="none" stroke-linecap="round" stroke-linejoin="round"><path d="M-7.4 5.8 L7.4 -20" stroke-width="1.60"/></g>
<g transform="translate(733.70 362.73) scale(0.98)" stroke="#000" fill="none" stroke-linecap="round" stroke-linejoin="round"><path d="M2.4 -17.8 L-6.5 -5.1 H6.7 M-0.7 0 H4.8" stroke-width="1.63"/><path d="M2.3 -17.8 V0" stroke-width="2.45"/></g>
</svg></body></html>
